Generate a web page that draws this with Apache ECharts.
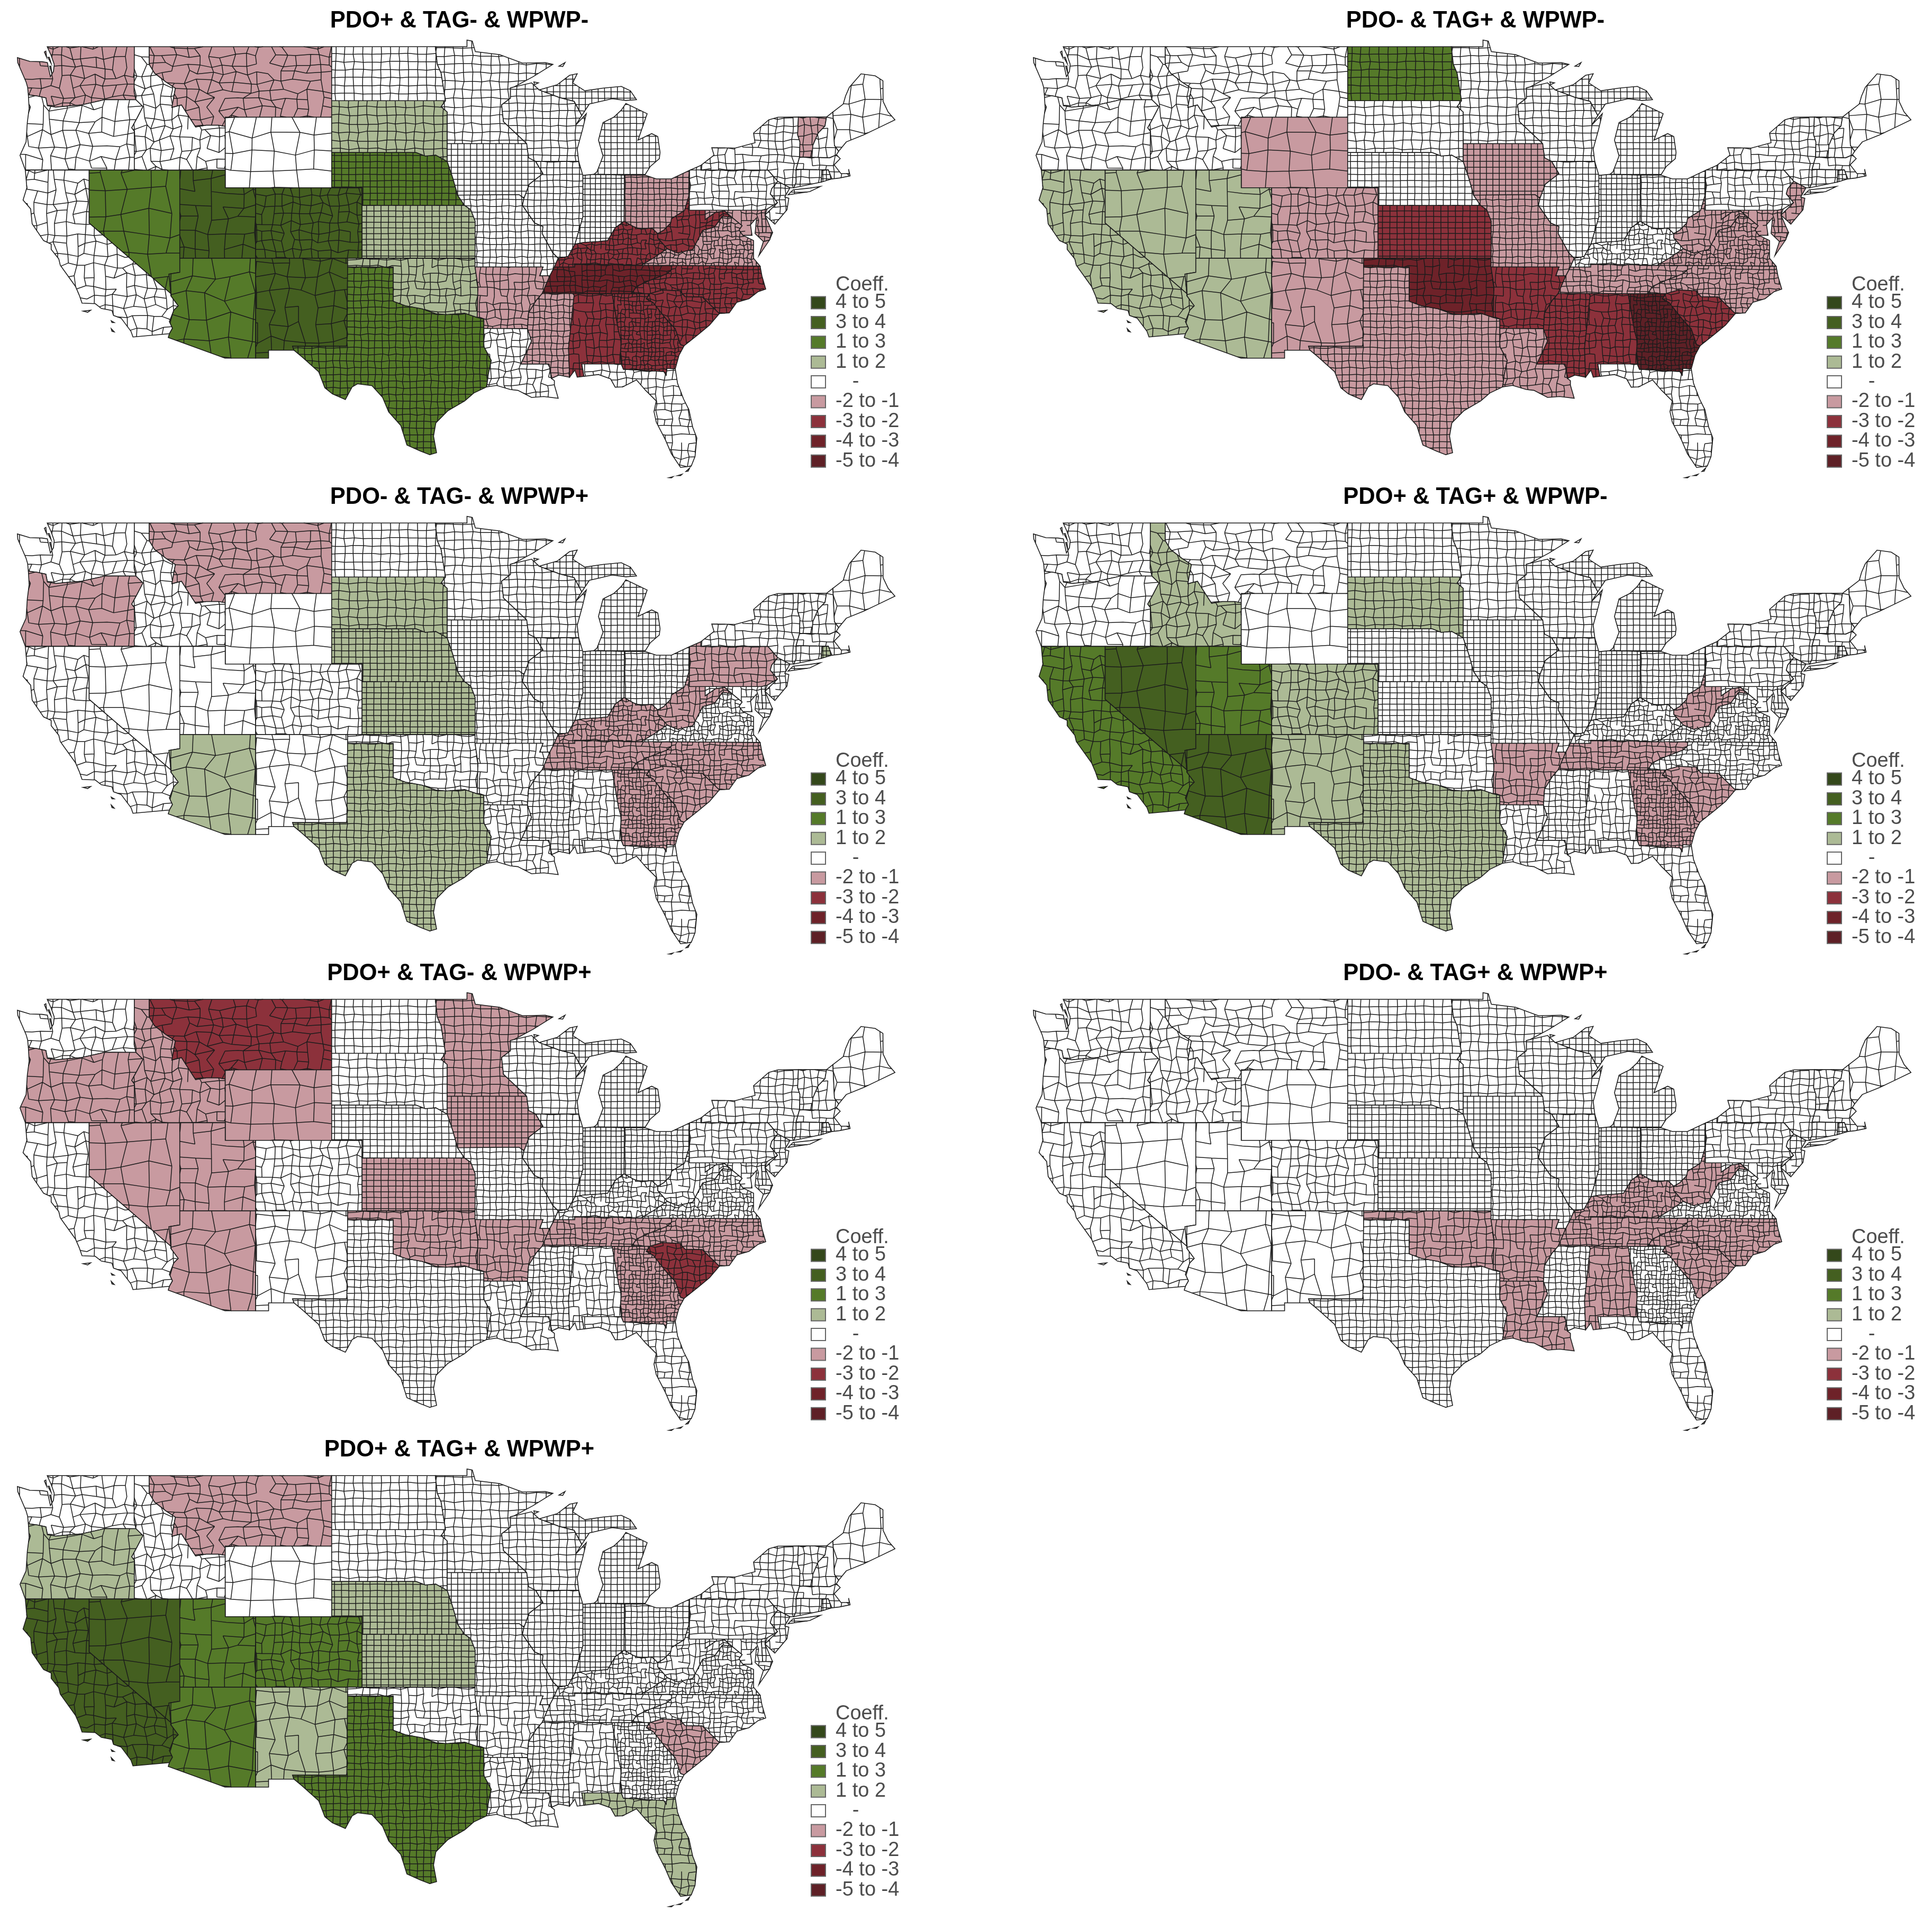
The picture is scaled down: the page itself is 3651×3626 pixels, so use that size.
<!DOCTYPE html>
<html>
<head>
<meta charset="utf-8">
<title>Coefficient maps</title>
<script src="https://cdn.jsdelivr.net/npm/echarts@6/dist/echarts.min.js"></script>
<style>
html,body{margin:0;padding:0;background:#fff}
#chart{width:3651px;height:3626px}
</style>
</head>
<body>
<div id="chart"></div>
<script>
// panel titles
var panelTitles=[
	"PDO+ & TAG- & WPWP-","PDO- & TAG+ & WPWP-",
	"PDO- & TAG- & WPWP+","PDO+ & TAG+ & WPWP-",
	"PDO+ & TAG- & WPWP+","PDO- & TAG+ & WPWP+",
	"PDO+ & TAG+ & WPWP+"
];

// legend classes, top to bottom
var classLabels=["4 to 5","3 to 4","1 to 3","1 to 2","   -","-2 to -1","-3 to -2","-4 to -3","-5 to -4"];
var classMin=[4,3,2,1,-1,-2,-3,-4,-5];
var classMax=[5,4,3,2,1,-1,-2,-3,-4];
var classColors=["#34481b","#445f20","#557a29","#acba95","#ffffff","#c89aa0","#8c313b","#6e2229","#5e2026"];

// state values per panel (states left out are in the blank class)
var panel1Values=[["WA",-1.5],["MT",-1.5],["SD",1.5],["NE",2.5],["NV",2.5],["AZ",2.5],["UT",3.5],["CO",3.5],["NM",3.5],["TX",2.5],["KS",1.5],["OK",1.5],["AR",-1.5],["MS",-1.5],["TN",-3.5],["KY",-2.5],["WV",-2.5],["VA",-1.5],["MD",-1.5],["DE",-1.5],["OH",-1.5],["VT",-1.5],["NC",-2.5],["SC",-2.5],["GA",-2.5],["AL",-2.5]];
var panel2Values=[["ND",2.5],["WY",-1.5],["CA",1.5],["NV",1.5],["UT",1.5],["AZ",1.5],["CO",-1.5],["NM",-1.5],["TX",-1.5],["MO",-1.5],["IA",-1.5],["LA",-1.5],["TN",-1.5],["NC",-1.5],["VA",-1.5],["WV",-1.5],["MD",-1.5],["DE",-1.5],["NJ",-1.5],["KS",-2.5],["OK",-3.5],["AR",-2.5],["MS",-2.5],["AL",-2.5],["GA",-4.5],["SC",-2.5]];
var panel3Values=[["MT",-1.5],["OR",-1.5],["SD",1.5],["NE",1.5],["KS",1.5],["TX",1.5],["AZ",1.5],["RI",1.5],["KY",-1.5],["TN",-1.5],["NC",-1.5],["SC",-1.5],["GA",-1.5],["WV",-1.5],["PA",-1.5]];
var panel4Values=[["ID",1.5],["SD",1.5],["CO",1.5],["NM",1.5],["TX",1.5],["CA",2.5],["UT",2.5],["NV",3.5],["AZ",3.5],["WV",-1.5],["AR",-1.5],["TN",-1.5],["GA",-1.5],["SC",-1.5]];
var panel5Values=[["MT",-2.5],["ID",-1.5],["OR",-1.5],["WY",-1.5],["NV",-1.5],["UT",-1.5],["AZ",-1.5],["MN",-1.5],["IA",-1.5],["KS",-1.5],["OK",-1.5],["AR",-1.5],["TN",-1.5],["NC",-1.5],["GA",-1.5],["SC",-2.5]];
var panel6Values=[["OK",-1.5],["AR",-1.5],["LA",-1.5],["TN",-1.5],["KY",-1.5],["WV",-1.5],["AL",-1.5],["NC",-1.5],["SC",-1.5]];
var panel7Values=[["OR",1.5],["NE",1.5],["KS",1.5],["NM",1.5],["FL",1.5],["MT",-1.5],["SC",-1.5],["CA",3.5],["NV",3.5],["UT",2.5],["CO",2.5],["AZ",2.5],["TX",2.5]];
var panelValues=[panel1Values,panel2Values,panel3Values,panel4Values,panel5Values,panel6Values,panel7Values];

// state outlines, lon/lat, first ring is the main land
var stateShapes={
WA:[[[-122.76,49],[-117.03,49],[-117.04,46.42],[-116.92,45.99],[-118.98,46],[-119.3,45.93],[-120.5,45.7],[-121.2,45.65],[-122.2,45.57],[-122.75,45.65],[-122.85,46.1],[-123.4,46.2],[-124,46.27],[-124.05,46.7],[-124.15,47],[-124.4,47.5],[-124.7,48.1],[-124.72,48.38],[-123.9,48.17],[-123.1,48.15],[-122.75,48.1],[-122.55,47.3],[-122.35,47.6],[-122.3,48],[-122.5,48.5]],[[-122.95,48.7],[-122.8,48.4],[-122.85,48.75]],[[-122.72,48.4],[-122.5,48.05],[-122.62,48.4]],[[-122.6,47.9],[-122.45,47.45],[-122.52,47.9]]],
OR:[[[-124,46.27],[-123.4,46.2],[-122.85,46.1],[-122.75,45.65],[-122.2,45.57],[-121.2,45.65],[-120.5,45.7],[-119.3,45.93],[-118.98,46],[-116.92,45.99],[-116.46,45.6],[-116.85,44.95],[-117.2,44.4],[-117.03,44.2],[-117.03,42],[-120,42],[-124.2,42],[-124.55,42.84],[-124.15,43.6],[-124.07,44.7],[-123.95,45.5]]],
CA:[[[-124.2,42],[-120,42],[-120,39],[-114.63,35],[-114.63,34.87],[-114.14,34.3],[-114.43,34.05],[-114.72,33.4],[-114.52,33.03],[-114.72,32.72],[-117.12,32.53],[-117.25,32.85],[-117.9,33.6],[-118.4,33.75],[-118.5,34.03],[-119.2,34.15],[-119.6,34.42],[-120.47,34.45],[-120.65,34.9],[-120.9,35.4],[-121.9,36.6],[-122,36.96],[-122.5,37.5],[-122.5,37.8],[-123,38],[-123.75,38.95],[-123.85,39.8],[-124.35,40.3],[-124.1,41]],[[-120.4,34],[-119.9,34.05],[-120.1,33.93]],[[-118.55,33.45],[-118.35,33.35],[-118.5,33.35]],[[-118.55,33],[-118.35,32.82],[-118.5,32.85]]],
NV:[[[-120,42],[-114.04,42],[-114.04,37],[-114.04,36.2],[-114.75,36.1],[-114.63,35],[-120,39]]],
ID:[[[-117.03,49],[-116.05,49],[-116.05,48],[-115.7,47.5],[-114.95,47],[-114.33,46.65],[-114.56,45.56],[-113.93,45.7],[-113.45,45.05],[-113,44.45],[-112.3,44.55],[-111.5,44.55],[-111.05,44.48],[-111.05,42],[-114.04,42],[-117.03,42],[-117.03,44.2],[-117.2,44.4],[-116.85,44.95],[-116.46,45.6],[-116.92,45.99],[-117.04,46.42]]],
MT:[[[-116.05,49],[-104.05,49],[-104.05,45.94],[-104.05,45],[-111.05,45],[-111.05,44.48],[-111.5,44.55],[-112.3,44.55],[-113,44.45],[-113.45,45.05],[-113.93,45.7],[-114.56,45.56],[-114.33,46.65],[-114.95,47],[-115.7,47.5],[-116.05,48]]],
WY:[[[-111.05,45],[-104.05,45],[-104.05,43],[-104.05,41],[-109.05,41],[-111.05,41],[-111.05,42],[-111.05,44.48]]],
UT:[[[-114.04,42],[-111.05,42],[-111.05,41],[-109.05,41],[-109.05,37],[-114.04,37]]],
CO:[[[-109.05,41],[-104.05,41],[-102.05,41],[-102.05,40],[-102.05,37],[-103,37],[-109.05,37]]],
AZ:[[[-114.04,37],[-109.05,37],[-109.05,31.33],[-111.07,31.33],[-114.8,32.5],[-114.72,32.72],[-114.52,33.03],[-114.72,33.4],[-114.43,34.05],[-114.14,34.3],[-114.63,34.87],[-114.63,35],[-114.75,36.1],[-114.04,36.2]]],
NM:[[[-109.05,37],[-103,37],[-103,36.5],[-103.05,32],[-106.62,32],[-106.53,31.78],[-108.2,31.78],[-108.2,31.33],[-109.05,31.33]]],
TX:[[[-103,36.5],[-100,36.5],[-100,34.56],[-99.2,34.3],[-98.1,34.13],[-97.2,33.85],[-96.5,33.8],[-95.3,33.88],[-94.48,33.64],[-94.04,33.55],[-94.04,33.02],[-94.04,31.99],[-93.55,31.2],[-93.75,30.4],[-93.85,29.7],[-94.7,29.35],[-95.3,28.9],[-96.4,28.35],[-97.2,27.65],[-97.35,26.9],[-97.15,25.96],[-97.6,25.85],[-98.2,26.05],[-99.1,26.4],[-99.5,27.5],[-100.3,28.28],[-100.7,29.1],[-101.4,29.77],[-102.35,29.87],[-102.7,29.7],[-103.15,28.98],[-104,29.3],[-104.5,29.65],[-104.9,30.55],[-106,31.4],[-106.53,31.78],[-106.62,32],[-103.05,32]]],
OK:[[[-103,37],[-102.05,37],[-94.62,37],[-94.62,36.5],[-94.43,35.4],[-94.48,33.64],[-95.3,33.88],[-96.5,33.8],[-97.2,33.85],[-98.1,34.13],[-99.2,34.3],[-100,34.56],[-100,36.5],[-103,36.5]]],
KS:[[[-102.05,40],[-95.31,40],[-94.9,39.75],[-94.61,39.1],[-94.62,37],[-102.05,37]]],
NE:[[[-104.05,43],[-98.5,43],[-97.9,42.8],[-97.2,42.85],[-96.45,42.49],[-96.1,41.6],[-95.9,41],[-95.77,40.58],[-95.31,40],[-102.05,40],[-102.05,41],[-104.05,41]]],
SD:[[[-104.05,45.94],[-96.56,45.94],[-96.85,45.6],[-96.45,45.3],[-96.45,43.5],[-96.45,42.49],[-97.2,42.85],[-97.9,42.8],[-98.5,43],[-104.05,43],[-104.05,45]]],
ND:[[[-104.05,49],[-97.23,49],[-97.1,48],[-96.85,47.5],[-96.56,45.94],[-104.05,45.94]]],
MN:[[[-97.23,49],[-95.15,49],[-95.15,49.38],[-94.8,49.32],[-94.6,48.72],[-93,48.55],[-91.5,48.07],[-90,48.1],[-89.5,48],[-90.8,47.3],[-92.05,46.72],[-92.29,46.66],[-92.29,46.08],[-92.87,45.7],[-92.75,44.75],[-91.22,43.5],[-96.45,43.5],[-96.45,45.3],[-96.85,45.6],[-96.56,45.94],[-96.85,47.5],[-97.1,48]]],
IA:[[[-96.45,43.5],[-91.22,43.5],[-91.1,42.7],[-90.64,42.5],[-90.15,41.8],[-91.05,41.2],[-91.4,40.4],[-91.73,40.61],[-95.77,40.58],[-95.9,41],[-96.1,41.6],[-96.45,42.49]]],
MO:[[[-95.77,40.58],[-91.73,40.61],[-91.4,40.4],[-91.5,40],[-90.7,39],[-90.15,38.8],[-90.2,38.4],[-89.5,37.3],[-89.15,37],[-89.4,36.5],[-89.7,36],[-90.37,36],[-90.15,36.5],[-94.62,36.5],[-94.62,37],[-94.61,39.1],[-94.9,39.75],[-95.31,40]]],
AR:[[[-94.62,36.5],[-90.15,36.5],[-90.37,36],[-89.7,36],[-90.2,35],[-90.6,34.6],[-91.1,33.9],[-91.17,33],[-94.04,33.02],[-94.04,33.55],[-94.48,33.64],[-94.43,35.4]]],
LA:[[[-94.04,33.02],[-91.17,33],[-90.9,32.3],[-91.6,31],[-89.75,31],[-89.6,30.18],[-89.4,30.05],[-89.4,29.8],[-89.15,29.05],[-90.1,29.15],[-90.9,29.1],[-91.8,29.5],[-92.3,29.55],[-93.2,29.78],[-93.85,29.7],[-93.75,30.4],[-93.55,31.2],[-94.04,31.99]]],
MS:[[[-90.2,35],[-88.2,35],[-88.1,34.9],[-88.47,31.9],[-88.4,30.25],[-89.1,30.37],[-89.6,30.18],[-89.75,31],[-91.6,31],[-90.9,32.3],[-91.17,33],[-91.1,33.9],[-90.6,34.6]]],
AL:[[[-88.2,35],[-85.6,34.98],[-85.18,32.87],[-85,32.3],[-85.05,31.55],[-85,31],[-87.6,31],[-87.45,30.3],[-87.9,30.25],[-88.05,30.65],[-88.4,30.25],[-88.47,31.9],[-88.1,34.9]]],
FL:[[[-87.6,31],[-85,31],[-84.86,30.7],[-82.2,30.57],[-82.05,30.37],[-82,30.75],[-81.45,30.72],[-81.3,29.9],[-80.9,29],[-80.55,28.4],[-80.3,27.4],[-80.03,26.8],[-80.15,25.75],[-80.4,25.2],[-81.1,25.13],[-81.7,25.9],[-82.1,26.7],[-82.7,27.7],[-82.85,28.3],[-82.7,28.9],[-83.4,29.5],[-84,30.1],[-84.9,29.7],[-85.4,29.68],[-85.7,30.15],[-86.5,30.4],[-87.45,30.3]],[[-81.85,24.55],[-81.6,24.6],[-81.7,24.54]],[[-81.3,24.66],[-81,24.74],[-81.1,24.66]],[[-80.75,24.9],[-80.5,25.1],[-80.6,24.92]]],
GA:[[[-85.6,34.98],[-84.32,34.99],[-83.1,35],[-83.35,34.7],[-82.9,34.48],[-82,33.5],[-81.45,33],[-81.1,32.1],[-80.87,32.03],[-81.2,31.5],[-81.45,30.72],[-82,30.75],[-82.05,30.37],[-82.2,30.57],[-84.86,30.7],[-85,31],[-85.05,31.55],[-85,32.3],[-85.18,32.87]]],
SC:[[[-83.1,35],[-82.3,35.2],[-81.05,35.15],[-81.05,35.05],[-80.8,34.82],[-79.67,34.8],[-78.55,33.86],[-79.2,33.2],[-79.9,32.7],[-80.87,32.03],[-81.1,32.1],[-81.45,33],[-82,33.5],[-82.9,34.48],[-83.35,34.7]]],
NC:[[[-84.32,34.99],[-83.1,35],[-82.3,35.2],[-81.05,35.15],[-81.05,35.05],[-80.8,34.82],[-79.67,34.8],[-78.55,33.86],[-77.9,33.9],[-77.4,34.5],[-76.6,34.7],[-76,35.1],[-75.5,35.25],[-75.75,36],[-75.87,36.55],[-81.68,36.59],[-81.7,36.35],[-82,36.12],[-83.2,35.72],[-84,35.4]]],
TN:[[[-90.2,35],[-88.2,35],[-85.6,34.98],[-84.32,34.99],[-84,35.4],[-83.2,35.72],[-82,36.12],[-81.7,36.35],[-81.68,36.59],[-83.68,36.6],[-86.5,36.65],[-88.07,36.68],[-88.07,36.5],[-89.4,36.5],[-89.7,36]]],
KY:[[[-89.4,36.5],[-88.07,36.5],[-88.07,36.68],[-86.5,36.65],[-83.68,36.6],[-82.9,37],[-81.97,37.54],[-82.6,38.15],[-82.6,38.4],[-83,38.72],[-83.7,38.65],[-84.2,38.8],[-84.82,39.1],[-85.4,38.73],[-85.9,38],[-86.5,37.95],[-87.5,37.9],[-88.05,37.8],[-88.5,37.1],[-89.15,37]]],
VA:[[[-83.68,36.6],[-81.68,36.59],[-75.87,36.55],[-76.3,37],[-76.3,37.5],[-76.3,38],[-77,38.3],[-77.25,38.6],[-77.05,38.85],[-77.72,39.32],[-78.35,39.39],[-78.87,38.77],[-79.65,38.58],[-80.3,37.5],[-81.3,37.3],[-81.97,37.54],[-82.9,37]],[[-75.95,37.15],[-75.25,38.03],[-75.65,37.95]]],
WV:[[[-81.97,37.54],[-81.3,37.3],[-80.3,37.5],[-79.65,38.58],[-78.87,38.77],[-78.35,39.39],[-77.72,39.32],[-78.2,39.68],[-78.8,39.6],[-79.48,39.2],[-79.48,39.72],[-80.52,39.72],[-80.52,40.64],[-80.85,39.7],[-81.7,39.25],[-81.75,39],[-82.2,38.6],[-82.6,38.4],[-82.6,38.15]]],
MD:[[[-79.48,39.72],[-75.79,39.72],[-75.7,38.46],[-75.05,38.45],[-75.25,38.03],[-75.65,37.95],[-76.2,38.4],[-76.1,39.3],[-76.5,38.9],[-76.4,38.3],[-77,38.3],[-77.25,38.6],[-77.05,38.85],[-77.72,39.32],[-78.2,39.68],[-78.8,39.6],[-79.48,39.2]]],
DE:[[[-75.79,39.72],[-75.4,39.8],[-75.55,39.45],[-75.05,38.45],[-75.7,38.46]]],
PA:[[[-80.52,41.98],[-79.76,42.27],[-79.76,42],[-75.35,42],[-74.7,41.36],[-75.1,40.95],[-75.2,40.65],[-74.72,40.15],[-75.4,39.8],[-75.79,39.72],[-79.48,39.72],[-80.52,39.72],[-80.52,40.64]]],
NJ:[[[-74.7,41.36],[-73.9,41],[-74.25,40.47],[-73.98,40.4],[-74.1,39.75],[-74.9,38.93],[-75.55,39.45],[-74.72,40.15],[-75.2,40.65],[-75.1,40.95]]],
NY:[[[-79.76,42.27],[-78.9,42.85],[-79.05,43.27],[-77.5,43.25],[-76.2,43.55],[-76.3,44.1],[-75.3,44.85],[-74.7,45],[-73.35,45.01],[-73.4,44],[-73.25,43.6],[-73.27,42.75],[-73.5,42.05],[-73.5,41.3],[-73.65,41],[-73.9,41],[-74.7,41.36],[-75.35,42],[-79.76,42]],[[-74.03,40.6],[-73.7,40.88],[-72.6,40.98],[-71.9,41.07],[-72.6,40.78]]],
CT:[[[-73.5,42.05],[-71.8,42.02],[-71.85,41.32],[-73.65,41],[-73.5,41.3]]],
RI:[[[-71.8,42.02],[-71.38,42.02],[-71.15,41.5],[-71.85,41.32]]],
MA:[[[-73.5,42.05],[-73.27,42.75],[-72.46,42.73],[-71.3,42.7],[-70.85,42.87],[-70.6,42.65],[-71,42.3],[-70.55,41.8],[-70,41.8],[-70.05,42.05],[-69.95,41.67],[-70.65,41.55],[-71.15,41.5],[-71.38,42.02],[-71.8,42.02]]],
VT:[[[-73.35,45.01],[-71.5,45.01],[-71.6,44.5],[-72.05,44.1],[-72.4,43.4],[-72.46,42.73],[-73.27,42.75],[-73.25,43.6],[-73.4,44]]],
NH:[[[-71.5,45.01],[-71.08,45.3],[-70.98,43.4],[-70.7,43.07],[-70.85,42.87],[-71.3,42.7],[-72.46,42.73],[-72.4,43.4],[-72.05,44.1],[-71.6,44.5]]],
ME:[[[-71.08,45.3],[-70.4,45.75],[-70.25,46.2],[-70,46.7],[-69.23,47.46],[-68.3,47.35],[-67.79,47.07],[-67.78,45.9],[-67.45,45.3],[-67,44.85],[-68.2,44.35],[-69.05,44],[-70.2,43.6],[-70.7,43.07],[-70.98,43.4]]],
OH:[[[-84.82,39.1],[-84.2,38.8],[-83.7,38.65],[-83,38.72],[-82.6,38.4],[-82.2,38.6],[-81.75,39],[-81.7,39.25],[-80.85,39.7],[-80.52,40.64],[-80.52,41.98],[-81.7,41.5],[-82.7,41.5],[-83.45,41.72],[-84.8,41.72]]],
IN:[[[-87.53,41.7],[-86.8,41.76],[-84.8,41.72],[-84.82,39.1],[-85.4,38.73],[-85.9,38],[-86.5,37.95],[-87.5,37.9],[-88.05,37.8],[-87.53,39.35]]],
IL:[[[-90.64,42.5],[-87.8,42.5],[-87.53,41.7],[-87.53,39.35],[-88.05,37.8],[-88.5,37.1],[-89.15,37],[-89.5,37.3],[-90.2,38.4],[-90.15,38.8],[-90.7,39],[-91.5,40],[-91.4,40.4],[-91.05,41.2],[-90.15,41.8]]],
WI:[[[-92.29,46.66],[-92.05,46.72],[-90.9,46.95],[-90.4,46.55],[-89.1,46.13],[-88.1,45.9],[-87.75,45.35],[-87.6,45.1],[-88,44.55],[-87.3,45.2],[-87.55,44.3],[-87.9,43.2],[-87.8,42.5],[-90.64,42.5],[-91.1,42.7],[-91.22,43.5],[-92.75,44.75],[-92.87,45.7],[-92.29,46.08]],[[-90.75,47],[-90.45,46.95],[-90.7,46.85]]],
MI:[[[-86.8,41.76],[-84.8,41.72],[-83.45,41.72],[-83.1,42.2],[-82.5,42.65],[-82.45,43],[-82.6,43.9],[-83,44.07],[-83.9,43.7],[-83.3,45.2],[-84.7,45.78],[-85,45.4],[-85.5,45],[-86.2,44.7],[-86.5,43.7],[-86.2,42.8],[-86.6,41.9]],[[-89.1,46.13],[-90.4,46.55],[-89.2,46.85],[-88.4,47.38],[-87.9,47.47],[-88.2,46.95],[-87.4,46.5],[-86.2,46.65],[-85,46.75],[-84.4,46.5],[-84,46],[-84.7,45.95],[-85.6,46.05],[-86.6,45.85],[-87.1,45.75],[-87.6,45.1],[-87.75,45.35],[-88.1,45.9]],[[-89.1,47.9],[-88.7,48.1],[-88.85,47.88]]]
};

// rough county size in each state: lon step, lat step, how irregular
var countySize={
WA:[.7,.55,.3],OR:[.85,.7,.3],CA:[.65,.6,.3],NV:[1.4,1.2,.25],ID:[.6,.6,.35],MT:[.8,.5,.35],WY:[1.4,1,.2],UT:[1,.8,.25],CO:[.62,.52,.3],AZ:[1.35,1.2,.3],NM:[1,.9,.25],
TX:[.46,.38,.1],OK:[.5,.42,.2],KS:[.48,.32,.03],NE:[.47,.36,.03],SD:[.62,.48,.12],ND:[.6,.45,.08],MN:[.6,.48,.12],IA:[.42,.34,0],MO:[.42,.36,.1],AR:[.46,.42,.2],LA:[.48,.42,.25],
MS:[.4,.35,.15],AL:[.45,.42,.2],FL:[.52,.45,.2],GA:[.25,.24,.25],SC:[.42,.38,.3],NC:[.36,.28,.25],TN:[.4,.3,.25],KY:[.3,.28,.3],VA:[.27,.25,.3],WV:[.38,.34,.3],MD:[.4,.35,.25],DE:[.5,.4,.1],
PA:[.5,.4,.2],NJ:[.35,.35,.2],NY:[.55,.42,.2],CT:[.6,.4,.1],RI:[.25,.25,.1],MA:[.5,.45,.2],VT:[.5,.5,.2],NH:[.55,.6,.2],ME:[1,.85,.2],
OH:[.38,.32,.08],IN:[.34,.31,.03],IL:[.42,.36,.08],WI:[.55,.42,.1],MI:[.42,.36,.02]
};

var stateCodes=Object.keys(stateShapes);

// map layout on the page
var PX_LON=28.73, PX_LAT=33.3, MAP_X=33.5, MAP_Y=88.3;
var boxLon=[-124.9,-66.9], boxLat=[49.5,24.4];
var COL_DX=1920, ROW_DY=900;

var usaFeatures=stateCodes.map(function(code){
	return {
		type:"Feature",
		properties:{name:code},
		geometry:{
			type:"MultiPolygon",
			coordinates:stateShapes[code].map(function(ring){
				return [ring.concat([ring[0]])];
			})
		}
	};
});

// map series on one map name get merged, so each panel has its own name
panelTitles.forEach(function(name,p){
	echarts.registerMap("usa"+p,{type:"FeatureCollection",features:usaFeatures});
});

function inRing(p,ring){
	var inside=false;
	for(var i=0,j=ring.length-1;i<ring.length;j=i++){
		var a=ring[i],b=ring[j];
		if((a[1]>p[1])!=(b[1]>p[1]) && p[0]<(b[0]-a[0])*(p[1]-a[1])/(b[1]-a[1])+a[0]){
			inside=!inside;
		}
	}
	return inside;
}

// keep only the parts of a segment that fall inside the ring
function clipSegment(a,b,ring,out){
	var ts=[0,1];
	var dx=b[0]-a[0],dy=b[1]-a[1];
	for(var i=0,j=ring.length-1;i<ring.length;j=i++){
		var c=ring[j],d=ring[i];
		var ex=d[0]-c[0],ey=d[1]-c[1];
		var den=dx*ey-dy*ex;
		if(Math.abs(den)<1e-12) continue;
		var t=((c[0]-a[0])*ey-(c[1]-a[1])*ex)/den;
		var u=((c[0]-a[0])*dy-(c[1]-a[1])*dx)/den;
		if(t>0 && t<1 && u>=0 && u<=1) ts.push(t);
	}
	ts.sort(function(x,y){return x-y;});
	for(var k=0;k<ts.length-1;k++){
		var t0=ts[k],t1=ts[k+1];
		if(t1-t0<1e-6) continue;
		var m=(t0+t1)/2;
		if(inRing([a[0]+dx*m,a[1]+dy*m],ring)){
			out.push({coords:[[a[0]+dx*t0,a[1]+dy*t0],[a[0]+dx*t1,a[1]+dy*t1]]});
		}
	}
}

function wiggle(i,j,k){
	var s=Math.sin(i*127.1+j*311.7+k*74.7)*43758.5453;
	return (s-Math.floor(s))*2-1;
}

// county mesh: a bent grid inside every state outline
function buildCountyLines(){
	var out=[];
	stateCodes.forEach(function(code){
		var size=countySize[code];
		var stepX=size[0],stepY=size[1],bend=size[2];
		stateShapes[code].forEach(function(ring,ringIndex){
			if(ringIndex>0 && !(code=="MI" && ringIndex==1) && !(code=="NY")) return;
			var lons=ring.map(function(p){return p[0];}),lats=ring.map(function(p){return p[1];});
			var i0=Math.floor(Math.min.apply(null,lons)/stepX)-1,i1=Math.ceil(Math.max.apply(null,lons)/stepX)+1;
			var j0=Math.floor(Math.min.apply(null,lats)/stepY)-1,j1=Math.ceil(Math.max.apply(null,lats)/stepY)+1;
			var node=function(i,j){
				return [i*stepX+bend*stepX*wiggle(i,j,1),j*stepY+bend*stepY*wiggle(i,j,2)];
			};
			for(var i=i0;i<i1;i++){
				for(var j=j0;j<j1;j++){
					if(!(bend>0.15 && wiggle(i,j,3)>0.78)) clipSegment(node(i,j),node(i+1,j),ring,out);
					if(!(bend>0.15 && wiggle(i,j,4)>0.78)) clipSegment(node(i,j),node(i,j+1),ring,out);
				}
			}
		});
	});
	return out;
}

var countyLines=buildCountyLines();

var pieces=classLabels.map(function(label,i){
	return {min:classMin[i],max:classMax[i],label:label,color:classColors[i]};
});

var titles=[],geos=[],mapSeries=[],lineSeries=[],visualMaps=[],frames=[];

panelTitles.forEach(function(name,p){
	var dx=(p%2)*COL_DX, dy=Math.floor(p/2)*ROW_DY;
	var box={
		left:MAP_X+(boxLon[0]+124.7)*PX_LON+dx,
		top:MAP_Y+(49-boxLat[0])*PX_LAT+dy,
		width:(boxLon[1]-boxLon[0])*PX_LON,
		height:(boxLat[0]-boxLat[1])*PX_LAT
	};
	var aspect=box.width/box.height/((boxLon[1]-boxLon[0])/(boxLat[0]-boxLat[1]));
	var coords=[[boxLon[0],boxLat[0]],[boxLon[1],boxLat[1]]];
	var lookup={};
	panelValues[p].forEach(function(v){lookup[v[0]]=v[1];});

	titles.push({
		text:name,left:868+dx,top:17.5+dy,textAlign:"center",padding:0,
		textStyle:{fontFamily:"Liberation Sans",fontSize:43.5,fontWeight:"bold",color:"#000"}
	});
	titles.push({
		text:"Coeff.",left:1579+dx,top:520+dy,padding:0,
		textStyle:{fontFamily:"Liberation Sans",fontSize:38,fontWeight:"normal",color:"#4d4d4d"}
	});

	geos.push({
		map:"usa"+p,left:box.left,top:box.top,width:box.width,height:box.height,
		aspectScale:aspect,boundingCoords:coords,silent:true,roam:false,
		itemStyle:{areaColor:"transparent",borderWidth:0,borderColor:"transparent"},
		emphasis:{disabled:true},select:{disabled:true}
	});

	mapSeries.push({
		type:"map",map:"usa"+p,left:box.left,top:box.top,width:box.width,height:box.height,
		aspectScale:aspect,boundingCoords:coords,silent:true,roam:false,selectedMode:false,
		label:{show:false},emphasis:{disabled:true},select:{disabled:true},
		itemStyle:{areaColor:"#fff",borderColor:"#1c1c1c",borderWidth:1.6},
		data:stateCodes.map(function(code){
			return {name:code,value:lookup[code]===undefined?0:lookup[code]};
		})
	});

	lineSeries.push({
		type:"lines",coordinateSystem:"geo",geoIndex:p,large:true,largeThreshold:100,
		progressive:0,silent:true,z:5,
		lineStyle:{color:"#1c1c1c",width:1.5,opacity:1,curveness:0},
		data:countyLines
	});

	visualMaps.push({
		type:"piecewise",seriesIndex:p,left:1533+dx,top:553+dy,orient:"vertical",
		itemWidth:27,itemHeight:23,itemGap:-0.6,textGap:19,itemSymbol:"rect",padding:0,
		align:"left",hoverLink:false,selectedMode:false,
		textStyle:{fontFamily:"Liberation Sans",fontSize:38,color:"#4d4d4d"},
		pieces:pieces
	});

	classLabels.forEach(function(label,i){
		frames.push({
			type:"rect",silent:true,z:100,
			shape:{x:1533+dx,y:560.5+dy+i*37.4,width:27,height:23},
			style:{fill:"none",stroke:"#666",lineWidth:2}
		});
	});
});

var chart=echarts.init(document.getElementById("chart"));
chart.setOption({
	animation:false,
	backgroundColor:"#fff",
	title:titles,
	geo:geos,
	visualMap:visualMaps,
	graphic:{elements:frames},
	series:mapSeries.concat(lineSeries)
});
</script>
</body>
</html>
